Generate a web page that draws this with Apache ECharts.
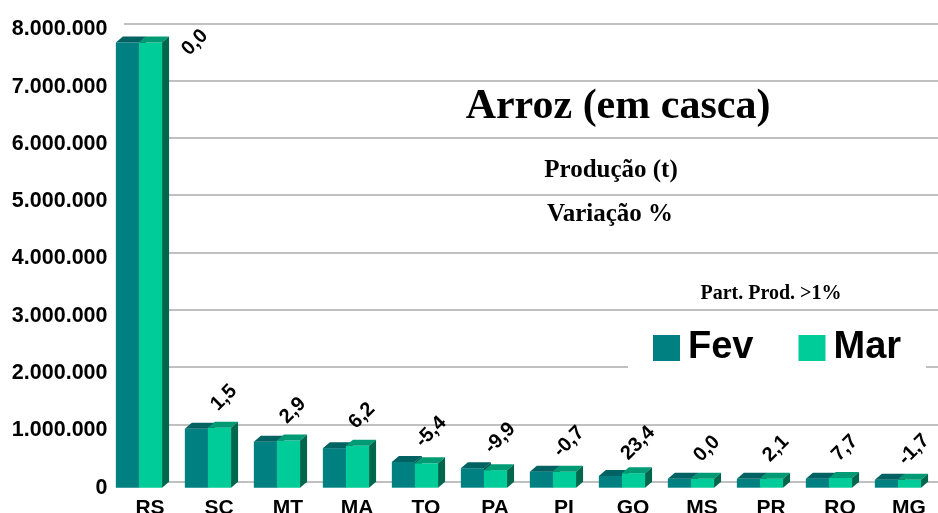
<!DOCTYPE html>
<html>
<head>
<meta charset="utf-8">
<script src="https://cdn.jsdelivr.net/npm/echarts@6/dist/echarts.min.js"></script>
<style>
  html, body { margin: 0; padding: 0; background: #fff; }
  #chart { width: 938px; height: 513px; }
</style>
</head>
<body>
<div id="chart"></div>
<script>
const categories = ['RS', 'SC', 'MT', 'MA', 'TO', 'PA', 'PI', 'GO', 'MS', 'PR', 'RO', 'MG']
const fev = [7770000, 1030000, 800000, 690000, 450000, 340000, 280000, 205000, 157000, 155000, 158000, 140000]
const mar = [7770000, 1045000, 823000, 733000, 426000, 306000, 278000, 253000, 157000, 158000, 170000, 138000]
const variacao = [0.0, 1.5, 2.9, 6.2, -5.4, -9.9, -0.7, 23.4, 0.0, 2.1, 7.7, -1.7]
const yTicks = [0, 8000000, 1000000]

const DX = 7, DY = -6
const SANS = 'Arial, "Liberation Sans", sans-serif'
const SERIF = '"Times New Roman", "Liberation Serif", serif'

function fmt(v) {
  return String(v).replace(/\B(?=(\d{3})+(?!\d))/g, '.')
}

// barra 3D: frente + topo + lateral
function bar3d(which, colors) {
  return function (params, api) {
    const idx = api.value(0)
    const val = api.value(1)
    const top = api.coord([idx, val])
    const base = api.coord([idx, 0])[1]
    const band = api.size([1, 0])[0]
    const w = band * 0.335
    const mid = top[0] - band * 0.16
    const x0 = which === 0 ? mid - w : mid
    const x1 = x0 + w
    const y = top[1]
    const children = [
      { type: 'rect', shape: { x: x0, y: y, width: w, height: base - y }, style: { fill: colors[0] } },
      { type: 'polygon', shape: { points: [[x0, y], [x1, y], [x1 + DX, y + DY], [x0 + DX, y + DY]] }, style: { fill: colors[1] } },
      { type: 'polygon', shape: { points: [[x1, y], [x1 + DX, y + DY], [x1 + DX, base + DY], [x1, base]] }, style: { fill: colors[2] } },
    ]
    if (which === 1) {
      const other = api.value(2)
      const yMax = api.coord([idx, Math.max(val, other)])[1]
      let lx = top[0] + 5, ly = yMax - 30
      const gridTop = api.coord([idx, yTicks[1]])[1]
      if (ly - 12 < gridTop) {
        // sem espaço acima: rótulo ao lado da barra
        lx = top[0] + 45
        ly = yMax
      }
      children.push({
        type: 'text',
        x: lx,
        y: ly,
        rotation: Math.PI / 4,
        style: {
          text: api.value(3).toFixed(1).replace('.', ','),
          fill: '#000',
          font: 'bold 20px ' + SANS,
          align: 'center',
          verticalAlign: 'middle',
        },
      })
    }
    return { type: 'group', children: children }
  }
}

const chart = echarts.init(document.getElementById('chart'))

chart.setOption({
  animation: false,
  backgroundColor: '#fff',
  grid: [
    { left: 115.5, width: 828, top: 29.3, height: 458.4, outerBoundsMode: 'none', containLabel: false },
    { left: 124, right: 0, top: 23.3, height: 458.4, outerBoundsMode: 'none', containLabel: false },
  ],
  xAxis: [
    {
      type: 'category',
      gridIndex: 0,
      data: categories,
      axisLine: { show: false },
      axisTick: { show: false },
      axisLabel: { margin: 10, color: '#000', fontWeight: 'bold', fontSize: 21, fontFamily: SANS },
    },
    { type: 'category', gridIndex: 1, data: categories, show: false },
  ],
  yAxis: [
    {
      type: 'value',
      gridIndex: 0,
      min: yTicks[0],
      max: yTicks[1],
      interval: yTicks[2],
      splitLine: { show: false },
      axisLine: { show: false },
      axisTick: { show: false },
      axisLabel: {
        margin: 8,
        color: '#000',
        fontWeight: 'bold',
        fontSize: 21.5,
        fontFamily: SANS,
        formatter: fmt,
      },
    },
    {
      type: 'value',
      gridIndex: 1,
      min: yTicks[0],
      max: yTicks[1],
      interval: yTicks[2],
      axisLine: { show: false },
      axisTick: { show: false },
      axisLabel: { show: false },
      splitLine: { lineStyle: { color: '#C0C0C0', width: 2 } },
    },
  ],
  legend: {
    left: 628,
    top: 312,
    padding: [17, 25, 8, 25],
    backgroundColor: '#fff',
    icon: 'rect',
    itemWidth: 27,
    itemHeight: 26,
    itemGap: 45,
    data: ['Fev', 'Mar'],
    textStyle: { color: '#000', fontWeight: 'bold', fontSize: 38, fontFamily: SANS, padding: [0, 0, 0, 3] },
  },
  graphic: [
    { type: 'text', x: 618, y: 107, style: { text: 'Arroz (em casca)', font: 'bold 42px ' + SERIF, fill: '#000', align: 'center', verticalAlign: 'middle' } },
    { type: 'text', x: 611, y: 171, style: { text: 'Produção (t)', font: 'bold 25px ' + SERIF, fill: '#000', align: 'center', verticalAlign: 'middle' } },
    { type: 'text', x: 610, y: 215, style: { text: 'Variação %', font: 'bold 25px ' + SERIF, fill: '#000', align: 'center', verticalAlign: 'middle' } },
    { type: 'text', x: 771, y: 294, style: { text: 'Part. Prod. >1%', font: 'bold 20px ' + SERIF, fill: '#000', align: 'center', verticalAlign: 'middle' } },
  ],
  series: [
    {
      name: 'Fev',
      type: 'custom',
      xAxisIndex: 0,
      yAxisIndex: 0,
      itemStyle: { color: '#008080' },
      renderItem: bar3d(0, ['#008080', '#006262', '#005050']),
      data: fev.map((v, i) => [i, v]),
      z: 3,
    },
    {
      name: 'Mar',
      type: 'custom',
      xAxisIndex: 0,
      yAxisIndex: 0,
      itemStyle: { color: '#00CC99' },
      renderItem: bar3d(1, ['#00CC99', '#009B74', '#00664C']),
      data: mar.map((v, i) => [i, v, fev[i], variacao[i]]),
      z: 4,
    },
  ],
})
</script>
</body>
</html>
